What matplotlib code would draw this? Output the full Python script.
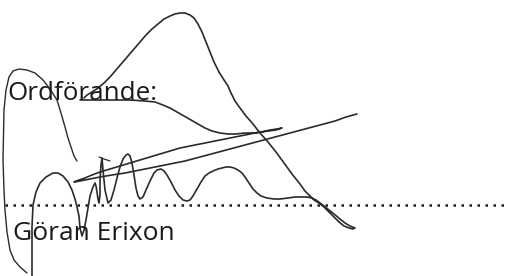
import matplotlib
matplotlib.use("Agg")
import matplotlib.pyplot as plt

# Printed labels
label_top = "Ordförande:"
label_name = "Göran Erixon"
label_top_pos = (7, 100)
label_name_pos = (13, 240)

# Dotted signature line
dotted_x = [5, 505]
dotted_y = [205, 205]

# Signature strokes as (x, y) points in pixel coordinates, y downward
outer_left = [(77, 161), (74, 156), (72, 150), (68, 138), (65, 127), (61, 113), (57, 100), (50, 89), (43, 80),
              (35, 73), (27, 70), (19, 69), (13, 71), (9, 77), (6, 90), (4, 110), (3, 160), (4, 190), (5, 210),
              (7, 232), (10, 250), (14, 260), (20, 267), (27, 273)]

main_stroke = [(32, 276), (32, 250), (32, 227), (33, 205), (36, 192), (40, 183), (46, 177), (53, 173), (58, 173),
               (63, 176), (68, 182), (72, 190), (75, 199), (77, 207), (79, 216), (80, 228), (82, 236), (84, 230),
               (86, 220), (88, 208), (90, 196), (93, 187), (95, 183), (96, 186), (97, 192), (98, 199), (99, 203),
               (100, 195), (100, 180), (101, 165), (102, 158), (103, 170), (105, 190), (108, 203), (111, 200),
               (114, 190), (117, 178), (120, 167), (123, 159), (126, 155), (128, 154), (130, 156), (132, 163),
               (134, 175), (136, 188), (138, 196), (140, 199), (143, 197), (146, 190), (150, 181), (154, 173),
               (157, 170), (161, 169), (164, 171), (167, 175), (171, 182), (175, 190), (179, 196), (183, 200),
               (187, 201), (190, 200), (193, 196), (197, 189), (201, 182), (205, 176), (209, 173), (213, 171),
               (218, 169), (222, 168), (226, 167), (230, 167), (234, 168), (238, 170), (242, 173), (245, 177),
               (249, 183), (253, 189), (257, 193), (261, 196), (267, 198), (274, 199), (280, 199), (288, 198),
               (295, 197), (301, 197), (307, 197), (312, 198), (316, 200), (320, 203), (324, 206), (329, 210),
               (334, 214), (340, 219), (345, 223), (350, 226), (355, 228), (353, 229), (349, 228), (344, 226),
               (339, 222), (334, 217), (329, 212), (324, 207), (319, 203), (314, 200), (310, 196), (305, 191),
               (300, 184), (292, 174), (284, 163), (276, 152), (268, 142), (260, 133), (253, 124), (246, 116),
               (240, 108), (235, 101), (231, 93), (228, 86), (224, 80), (219, 72), (214, 62), (210, 52),
               (206, 42), (202, 32), (198, 24), (194, 18), (190, 15), (185, 13), (180, 13), (175, 14), (170, 16),
               (164, 19), (158, 24), (152, 29), (146, 35), (140, 42), (134, 49), (128, 56), (122, 63), (116, 70),
               (110, 77), (104, 83), (98, 88), (92, 92), (87, 95), (84, 98)]

swoop = [(80, 100), (90, 100), (100, 100), (115, 100), (130, 100), (145, 101), (155, 102), (163, 105), (170, 108),
         (177, 112), (184, 116), (191, 120), (198, 124), (205, 128), (212, 131), (220, 133), (228, 134), (236, 134),
         (245, 133), (254, 133), (262, 132), (270, 130), (277, 129), (282, 128), (276, 130), (268, 131), (260, 132),
         (250, 134), (240, 136), (230, 138), (220, 140), (210, 142), (200, 144), (190, 146), (180, 148), (170, 151),
         (160, 154), (150, 157), (140, 160), (130, 163), (120, 166), (110, 169), (100, 172), (92, 175), (85, 178),
         (79, 180), (74, 182), (80, 181), (90, 179), (100, 177), (112, 175), (125, 173), (140, 170), (155, 167),
         (170, 164), (185, 161), (200, 157), (215, 153), (230, 149), (245, 145), (260, 141), (275, 137), (290, 133),
         (305, 129), (320, 125), (335, 121), (346, 117), (357, 114)]

tick_mark = [(99, 157), (104, 159), (110, 161)]

ink = "#2b2b2b"

fig = plt.figure(figsize=(5.08, 2.76), dpi=100)
ax = fig.add_axes([0, 0, 1, 1])
ax.set_xlim(0, 508)
ax.set_ylim(276, 0)
ax.axis("off")

ax.plot(dotted_x, dotted_y, color="#1e1e1e", lw=1.8, dashes=(1, 2.2), dash_capstyle="butt")

ax.text(*label_top_pos, label_top, fontsize=18.7, family="Open Sans", color="#1a1a1a", ha="left", va="baseline")
ax.text(*label_name_pos, label_name, fontsize=19, family="Open Sans", color="#1a1a1a", ha="left", va="baseline")

for pts, lw in [(outer_left, 1.0), (main_stroke, 1.2), (swoop, 1.2), (tick_mark, 0.9)]:
    xs = [p[0] for p in pts]
    ys = [p[1] for p in pts]
    ax.plot(xs, ys, color=ink, lw=lw, solid_joinstyle="round", solid_capstyle="round")

fig.savefig("out.png", dpi=100)
